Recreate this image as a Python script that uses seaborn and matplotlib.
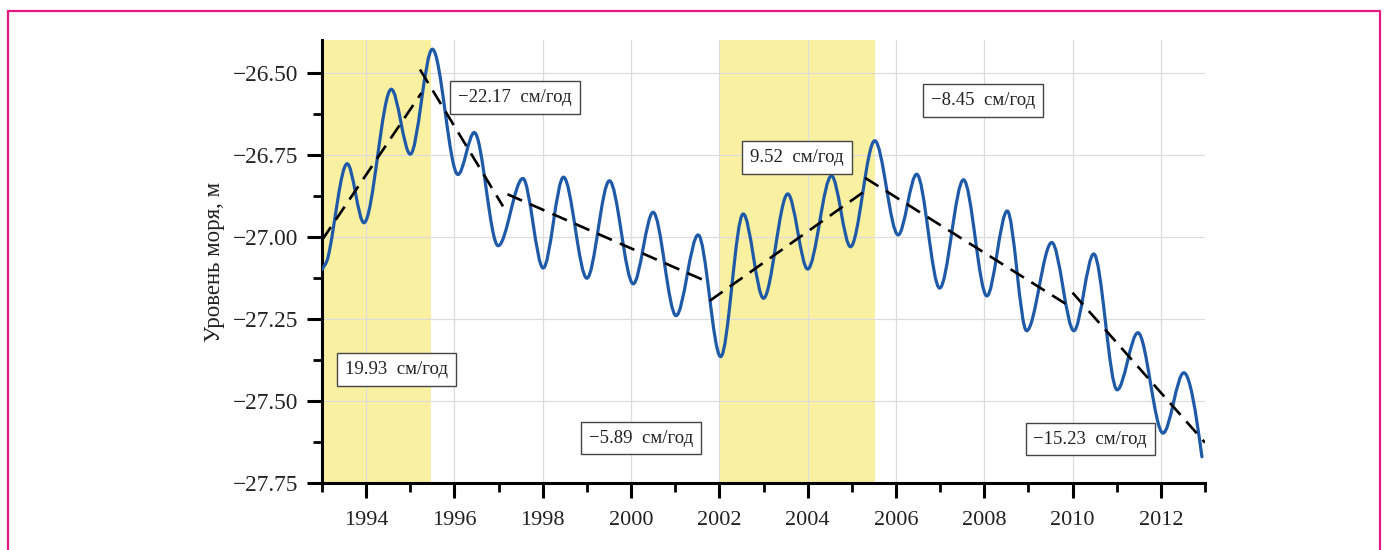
import numpy as np
import pandas as pd
import matplotlib
matplotlib.use("Agg")
import matplotlib.pyplot as plt
from matplotlib.path import Path
from matplotlib.patches import PathPatch, Rectangle
from matplotlib.ticker import MultipleLocator, FuncFormatter
import seaborn as sns

# Sea level: successive seasonal highs and lows (year, metres)
level_years = [1993.00, 1993.14, 1993.57, 1993.95, 1994.57, 1995.00, 1995.50,
               1996.08, 1996.45, 1996.99, 1997.55, 1998.01, 1998.47, 1999.00,
               1999.51, 2000.05, 2000.50, 2001.02, 2001.52, 2002.03, 2002.54,
               2003.00, 2003.55, 2004.00, 2004.54, 2004.97, 2005.52, 2006.05,
               2006.47, 2006.99, 2007.53, 2008.06, 2008.52, 2008.96, 2009.53,
               2010.03, 2010.48, 2011.01, 2011.48, 2012.05, 2012.52, 2012.93]
level_values = [-27.100, -27.060, -26.777, -26.957, -26.550, -26.748, -26.428,
                -26.810, -26.682, -27.027, -26.822, -27.095, -26.818, -27.126,
                -26.829, -27.143, -26.925, -27.240, -26.994, -27.365, -26.930,
                -27.187, -26.869, -27.098, -26.814, -27.030, -26.707, -26.994,
                -26.809, -27.156, -26.826, -27.180, -26.921, -27.286, -27.017,
                -27.286, -27.052, -27.466, -27.292, -27.598, -27.414, -27.670]

# Linear trends per period: start, end, level at start, rate in cm/year
trend_start = [1993.00, 1995.22, 1997.20, 2001.78, 2005.30, 2010.00]
trend_end = [1995.25, 1997.10, 2001.75, 2005.40, 2010.00, 2013.00]
trend_base = [-27.010, -26.490, -26.870, -27.195, -26.820, -27.170]
trend_rate_cm = [19.93, -22.17, -5.89, 9.52, -8.45, -15.23]

# Where each rate label sits (year, metres)
label_x = [1994.68, 1997.37, 2000.23, 2003.76, 2007.97, 2010.40]
label_y = [-27.405, -26.576, -27.613, -26.759, -26.585, -27.616]

# Highlighted rising periods
span_start = [1993.0, 2002.0]
span_end = [1995.48, 2005.53]

sns.set_theme(style="white")
plt.rcParams["font.family"] = ["Liberation Serif", "DejaVu Serif"]
plt.rcParams["axes.unicode_minus"] = True

fig = plt.figure(figsize=(13.87, 5.5), dpi=100)
ax = fig.add_axes([322 / 1387, 1 - 483 / 550, (1205 - 322) / 1387, (483 - 40) / 550])

for s, e in zip(span_start, span_end):
    ax.axvspan(s, e, color="#FAF0A2", lw=0, zorder=0.2)

# smooth sea-level curve: cubic segments between the readings,
# flat tangents at highs and lows
t = np.array(level_years)
v = np.array(level_values)
n = len(t)
m = np.zeros(n)
for i in range(n):
    if i == 0:
        m[i] = (v[1] - v[0]) / (t[1] - t[0])
    elif i == n - 1:
        m[i] = 1.6 * (v[i] - v[i - 1]) / (t[i] - t[i - 1])
    else:
        if (v[i] - v[i - 1]) * (v[i + 1] - v[i]) < 0:
            m[i] = 0.0
        else:
            m[i] = (v[i + 1] - v[i - 1]) / (t[i + 1] - t[i - 1])
verts = [(t[0], v[0])]
codes = [Path.MOVETO]
for i in range(n - 1):
    dt = t[i + 1] - t[i]
    verts += [(t[i] + dt / 3, v[i] + m[i] * dt / 3),
              (t[i + 1] - dt / 3, v[i + 1] - m[i + 1] * dt / 3),
              (t[i + 1], v[i + 1])]
    codes += [Path.CURVE4] * 3
ax.add_patch(PathPatch(Path(verts, codes), transform=ax.transData, fill=False,
                       edgecolor="#1F5AA8", lw=2.3, zorder=3,
                       capstyle="round", joinstyle="round"))

# dashed trend lines
for s, e, b, r in zip(trend_start, trend_end, trend_base, trend_rate_cm):
    seg = pd.DataFrame({"year": [s, e], "level": [b, b + r / 100.0 * (e - s)]})
    sns.lineplot(data=seg, x="year", y="level", ax=ax, color="black", lw=1.9,
                 linestyle=(0, (6.0, 3.3)), zorder=4)

for x, y, r in zip(label_x, label_y, trend_rate_cm):
    txt = f"{r:.2f}".replace("-", "\u2212") + "  см/год"
    ax.text(x, y, txt, ha="center", va="center", fontsize=13.5, color="#222222",
            zorder=6,
            bbox=dict(boxstyle="square,pad=0.42", facecolor="white",
                      edgecolor="#444444", lw=1.0))

ax.set_xlim(1993.0, 2013.0)
ax.set_ylim(-27.75, -26.40)
ax.xaxis.set_major_locator(MultipleLocator(2))
ax.xaxis.set_minor_locator(MultipleLocator(1))
ax.yaxis.set_major_locator(MultipleLocator(0.25))
ax.yaxis.set_minor_locator(MultipleLocator(0.125))
ax.xaxis.set_major_formatter(FuncFormatter(lambda val, pos: f"{val:.0f}"))
ax.yaxis.set_major_formatter(
    FuncFormatter(lambda val, pos: f"{val:.2f}".replace("-", "\u2212")))

ax.grid(True, which="major", color="#DCDCDC", lw=0.9, zorder=0.5)
ax.set_axisbelow(True)

for side in ["top", "right"]:
    ax.spines[side].set_visible(False)
for side in ["left", "bottom"]:
    ax.spines[side].set_linewidth(2.2)
    ax.spines[side].set_color("black")

ax.tick_params(which="major", direction="out", length=11, width=2.2,
               colors="black", labelsize=16, labelcolor="#222222")
ax.tick_params(which="minor", direction="out", length=6.5, width=2.0,
               colors="black")
ax.tick_params(axis="x", which="major", pad=9)
ax.tick_params(axis="y", which="major", pad=6, labelsize=16.8)
ax.tick_params(left=True, bottom=True, which="both")

ax.set_xlabel("")
ax.set_ylabel("Уровень моря, м", fontsize=16.5, color="#222222", labelpad=6)

fig.patches.append(Rectangle((8 / 1387, -0.05), (1380 - 8) / 1387,
                             (550 - 11) / 550 + 0.05, transform=fig.transFigure,
                             fill=False, edgecolor="#E2187F", lw=1.6))

fig.savefig("out.png", dpi=100)
